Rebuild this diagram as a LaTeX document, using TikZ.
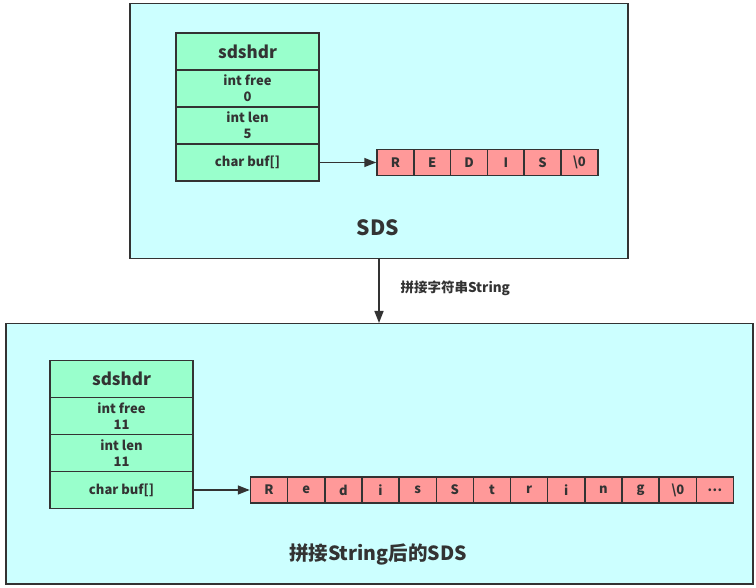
\documentclass[tikz,border=0pt]{standalone}
\usepackage{fontspec}
\setmainfont{Noto Sans CJK SC}
\usetikzlibrary{arrows.meta}
\definecolor{cont}{HTML}{CCFFFF}
\definecolor{hdr}{HTML}{99FFCC}
\definecolor{cell}{HTML}{FF9999}
\definecolor{ink}{HTML}{333333}
\newcommand{\mydots}{.\kern0.5pt.\kern0.5pt.}
\begin{document}
\begin{tikzpicture}[x=1pt,y=-1pt,
  every node/.style={text=ink,font=\bfseries},
  container/.style={draw=ink,line width=1.5pt,fill=cont,anchor=north west,inner sep=0pt},
  field/.style={draw=ink,line width=1.5pt,fill=hdr,minimum width=143pt,inner sep=0pt,align=center,font=\bfseries\fontsize{13}{16}\selectfont},
  cellbox/.style={draw=ink,line width=1.5pt,fill=cell,inner sep=0pt,minimum height=26pt,font=\bfseries\fontsize{13}{15}\selectfont},
  link/.style={draw=ink,line width=1.5pt,-{Triangle[length=12pt,width=9pt]}}]
\useasboundingbox (0,0) rectangle (756,588);
% containers
\node[container,minimum width=498pt,minimum height=255pt] (top) at (129,3) {};
\node[container,minimum width=747pt,minimum height=260pt] (bot) at (5,323) {};
% top struct
\node[field,minimum height=37pt,font=\bfseries\fontsize{17}{19}\selectfont] (t0) at (247.5,51.5) {sdshdr};
\node[field,minimum height=37pt] (t1) at (247.5,88.5) {int free\\0};
\node[field,minimum height=37pt] (t2) at (247.5,125.5) {int len\\5};
\node[field,minimum height=37pt] (t3) at (247.5,162.5) {char buf[]};
% top array
\foreach \c [count=\i from 0] in {R,E,D,I,S,\textbackslash 0}{
  \node[cellbox,minimum width=36.8pt] (ta\i) at (377+18.4+36.8*\i,162.5) {\c};
}
\draw[link] (t3.east) -- (ta0.west);
\node[font=\bfseries\fontsize{21}{24}\selectfont] (sds) at (378,228) {SDS};
% bottom struct
\node[field,minimum height=37pt,font=\bfseries\fontsize{17}{19}\selectfont] (b0) at (121.5,379) {sdshdr};
\node[field,minimum height=37pt] (b1) at (121.5,416) {int free\\11};
\node[field,minimum height=37pt] (b2) at (121.5,453) {int len\\11};
\node[field,minimum height=37pt] (b3) at (121.5,490) {char buf[]};
\foreach \c [count=\i from 0] in {R,e,d,i,s,S,t,r,i,n,g,\textbackslash 0,\mydots}{
  \node[cellbox,minimum width=37.15pt] (ba\i) at (250.5+18.575+37.15*\i,490) {\c};
}
\draw[link] (b3.east) -- (ba0.west);
\node[font=\bfseries\fontsize{19.5}{22}\selectfont] (title2) at (378,554) {拼接String后的SDS};
% connector between containers
\coordinate (s) at (379,258);
\coordinate (e) at (379,323);
\draw[link] (s) -- (e);
\node[anchor=west,font=\bfseries\fontsize{13.5}{15}\selectfont] (lab) at (397,288) {拼接字符串String};
\end{tikzpicture}
\end{document}
